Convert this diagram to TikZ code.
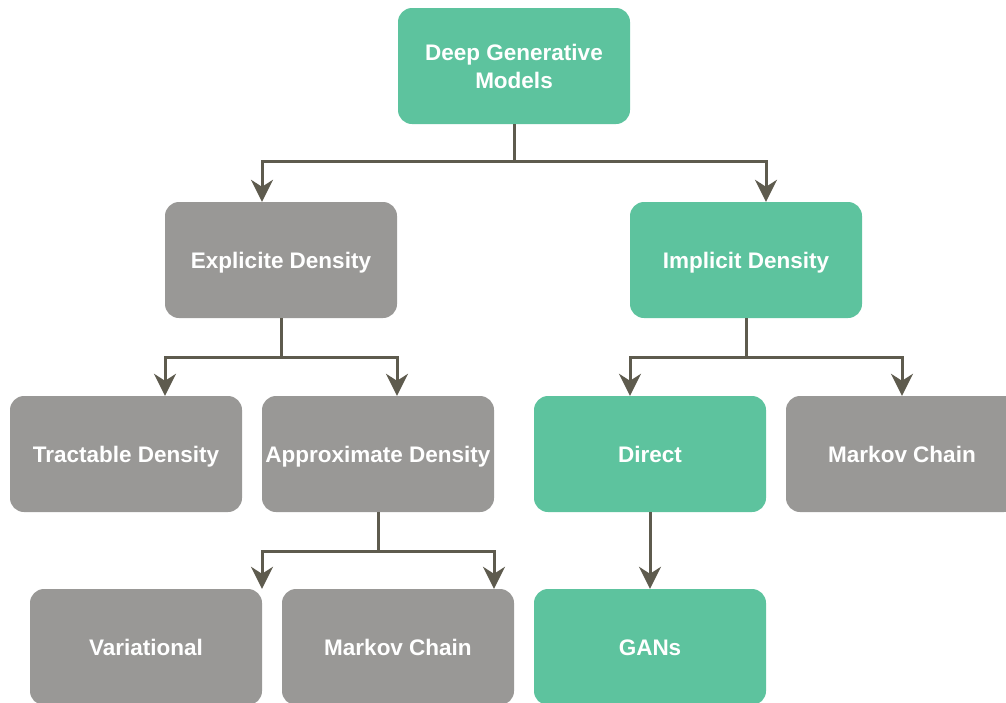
\documentclass[tikz,border=0pt]{standalone}
\usepackage{fontspec}
\setmainfont{Liberation Sans}
\usetikzlibrary{positioning,calc,arrows,arrows.meta}
\definecolor{boxgreen}{RGB}{93,195,158}
\definecolor{boxgray}{RGB}{153,152,150}
\definecolor{arrgray}{RGB}{94,91,78}
\tikzset{font=\bfseries\fontsize{22.5}{28}\selectfont}

\begin{document}
\begin{tikzpicture}[x=1pt,y=-1pt]
	\clip (0,0) rectangle (1006,702);
	\begin{scope}
		\tikzstyle{every node}=[align=center, inner sep=0pt, text=white, rounded corners=14pt, minimum width=232pt, minimum height=116pt, text height=16pt, text depth=0pt]
		\tikzstyle{gbox}=[fill=boxgreen]
		\tikzstyle{graybox}=[fill=boxgray]
		\tikzstyle{arr}=[draw=arrgray, line width=3pt, -{Stealth[length=22pt,width=22pt,inset=7pt]}]

		\node[gbox, text height=, text depth=] (dgm) at (514, 66) {Deep Generative\\Models};

		\node[graybox] (exp) at (281, 260) {Explicite Density};
		\node[gbox] (imp) at (746, 260) {Implicit Density};

		\node[graybox] (tra) at (126, 454) {Tractable Density};
		\node[graybox] (app) at (378, 454) {Approximate Density};
		\node[gbox] (dir) at (650, 454) {Direct};
		\node[graybox] (mcr) at (902, 454) {Markov Chain};

		\node[graybox] (var) at (146, 647) {Variational};
		\node[graybox] (mcb) at (398, 647) {Markov Chain};
		\node[gbox] (gan) at (650, 647) {GANs};

		\draw [arr] (dgm.south) -- ++(0,37) -| ([xshift=-19pt]exp.north);
		\draw [arr] (dgm.south) -- ++(0,37) -| ([xshift=20pt]imp.north);

		\draw [arr] (exp.south) -- ++(0,39) -| ([xshift=39pt]tra.north);
		\draw [arr] (exp.south) -- ++(0,39) -| ([xshift=19pt]app.north);
		\draw [arr] (imp.south) -- ++(0,39) -| ([xshift=-20pt]dir.north);
		\draw [arr] (imp.south) -- ++(0,39) -| (mcr.north);

		\draw [arr] (app.south) -- ++(0,39) -| ([xshift=116pt]var.north);
		\draw [arr] (app.south) -- ++(0,39) -| ([xshift=96pt]mcb.north);
		\draw [arr] (dir) to (gan);
	\end{scope}
\end{tikzpicture}
\end{document}
